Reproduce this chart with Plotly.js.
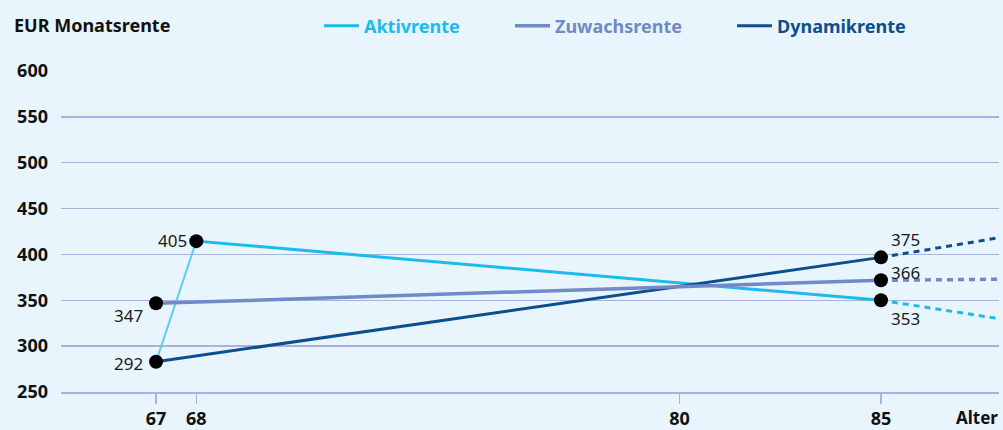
<!DOCTYPE html>
<html><head><meta charset="utf-8">
<script src="https://cdn.plot.ly/plotly-3.0.1.min.js"></script>
<style>html,body{margin:0;padding:0;background:#e8f5fc}</style>
</head><body><div id="chart" style="width:1003px;height:430px"></div>
<script>
// Data (ages and monthly pensions in EUR)
const ageTicks = [67, 68, 80, 85];
const aktivAges = [68, 85];
const aktivVals = [414.5, 350];
const aktivStartAges = [67, 68];
const aktivStartVals = [283, 414.5];
const aktivOutAges = [85, 88];
const aktivOutVals = [350, 329.5];
const zuwachsAges = [67, 85];
const zuwachsVals = [346.7, 371.8];
const zuwachsOutAges = [85, 88];
const zuwachsOutVals = [371.8, 373];
const dynamikAges = [67, 85];
const dynamikVals = [283, 396.8];
const dynamikOutAges = [85, 88];
const dynamikOutVals = [396.8, 418.7];
const pointAges = [67, 68, 67, 85, 85, 85];
const pointVals = [283, 414.5, 346.7, 396.8, 371.8, 350];
const labelTexts = ['292', '405', '347', '375', '366', '353'];

const C_AKT = '#1bbbec', C_AKT2 = '#5fcaf3', C_ZUW = '#7189c6', C_DYN = '#0b4f8f';
const FONT = '"Noto Sans", sans-serif';

const traces = [
  {x: aktivStartAges, y: aktivStartVals, mode: 'lines', line: {color: C_AKT2, width: 2}, showlegend: false},
  {x: aktivAges, y: aktivVals, mode: 'lines', name: 'Aktivrente', line: {color: C_AKT, width: 3}, legend: 'legend'},
  {x: aktivOutAges, y: aktivOutVals, mode: 'lines', line: {color: C_AKT, width: 3, dash: '6px,5px'}, showlegend: false},
  {x: dynamikAges, y: dynamikVals, mode: 'lines', name: 'Dynamikrente', line: {color: C_DYN, width: 3}, legend: 'legend3'},
  {x: dynamikOutAges, y: dynamikOutVals, mode: 'lines', line: {color: C_DYN, width: 3, dash: '6px,5px'}, showlegend: false},
  {x: zuwachsAges, y: zuwachsVals, mode: 'lines', name: 'Zuwachsrente', line: {color: C_ZUW, width: 3.5}, legend: 'legend2'},
  {x: zuwachsOutAges, y: zuwachsOutVals, mode: 'lines', line: {color: C_ZUW, width: 3.5, dash: '6px,5px'}, showlegend: false},
  {x: pointAges, y: pointVals, mode: 'markers', marker: {color: '#000', size: 14}, showlegend: false}
];

// label placement offsets (px) per point
const lblShift = [[-11, -2, 'right'], [-7, 1, 'right'], [-11, -12, 'right'], [8, 18, 'left'], [8, 8, 'left'], [8, -18, 'left']];
const annotations = labelTexts.map((t, i) => ({
  x: pointAges[i], y: pointVals[i], xref: 'x', yref: 'y', text: t, showarrow: false,
  xanchor: lblShift[i][2], yanchor: 'middle', xshift: lblShift[i][0], yshift: lblShift[i][1],
  font: {family: FONT, size: 17, color: '#1a1a1a'}
}));
annotations.push({
  xref: 'paper', yref: 'paper', x: 1, y: 0, xanchor: 'right', yanchor: 'top', yshift: -12, xshift: 1,
  text: '<b>Alter</b>', showarrow: false, font: {family: FONT, size: 17, color: '#111'}
});

const legBase = (x, color) => ({
  xref: 'container', yref: 'container', x: x, y: 1 - 26 / 430, xanchor: 'left', yanchor: 'middle',
  orientation: 'h', bgcolor: 'rgba(0,0,0,0)', borderwidth: 0, itemwidth: 35,
  font: {family: FONT, size: 18, color: color, weight: 'bold'}
});

const layout = {
  width: 1003, height: 430,
  paper_bgcolor: '#e8f5fc', plot_bgcolor: '#e8f5fc',
  margin: {l: 61, r: 4, t: 71, b: 38},
  title: {text: '<b>EUR Monatsrente</b>', xref: 'container', yref: 'container', x: 14 / 1003, y: 1 - 26 / 430,
    xanchor: 'left', yanchor: 'middle', font: {family: FONT, size: 18, color: '#111'}},
  xaxis: {range: [64.64, 87.93], tickvals: ageTicks, ticktext: ageTicks.map(String), showgrid: false, zeroline: false,
    showline: true, linecolor: '#a6b4dd', linewidth: 1.5, ticks: 'outside', ticklen: 10, tickwidth: 1.5, tickcolor: '#a6b4dd',
    tickfont: {family: FONT, size: 18, color: '#111', weight: 'bold'}, ticklabelstandoff: 0, fixedrange: true},
  yaxis: {range: [250, 600], tickvals: [250, 300, 350, 400, 450, 500, 550, 600], showgrid: true, gridcolor: '#a6b4dd', gridwidth: 1.5,
    zeroline: false, ticks: '', tickfont: {family: FONT, size: 18, color: '#111', weight: 'bold'}, ticklabelstandoff: 12, fixedrange: true},
  showlegend: true,
  legend: legBase(319 / 1003, C_AKT),
  legend2: legBase(510 / 1003, C_ZUW),
  legend3: legBase(732 / 1003, C_DYN),
  annotations: annotations
};

Plotly.newPlot('chart', traces, layout, {displayModeBar: false, staticPlot: true});
</script></body></html>
